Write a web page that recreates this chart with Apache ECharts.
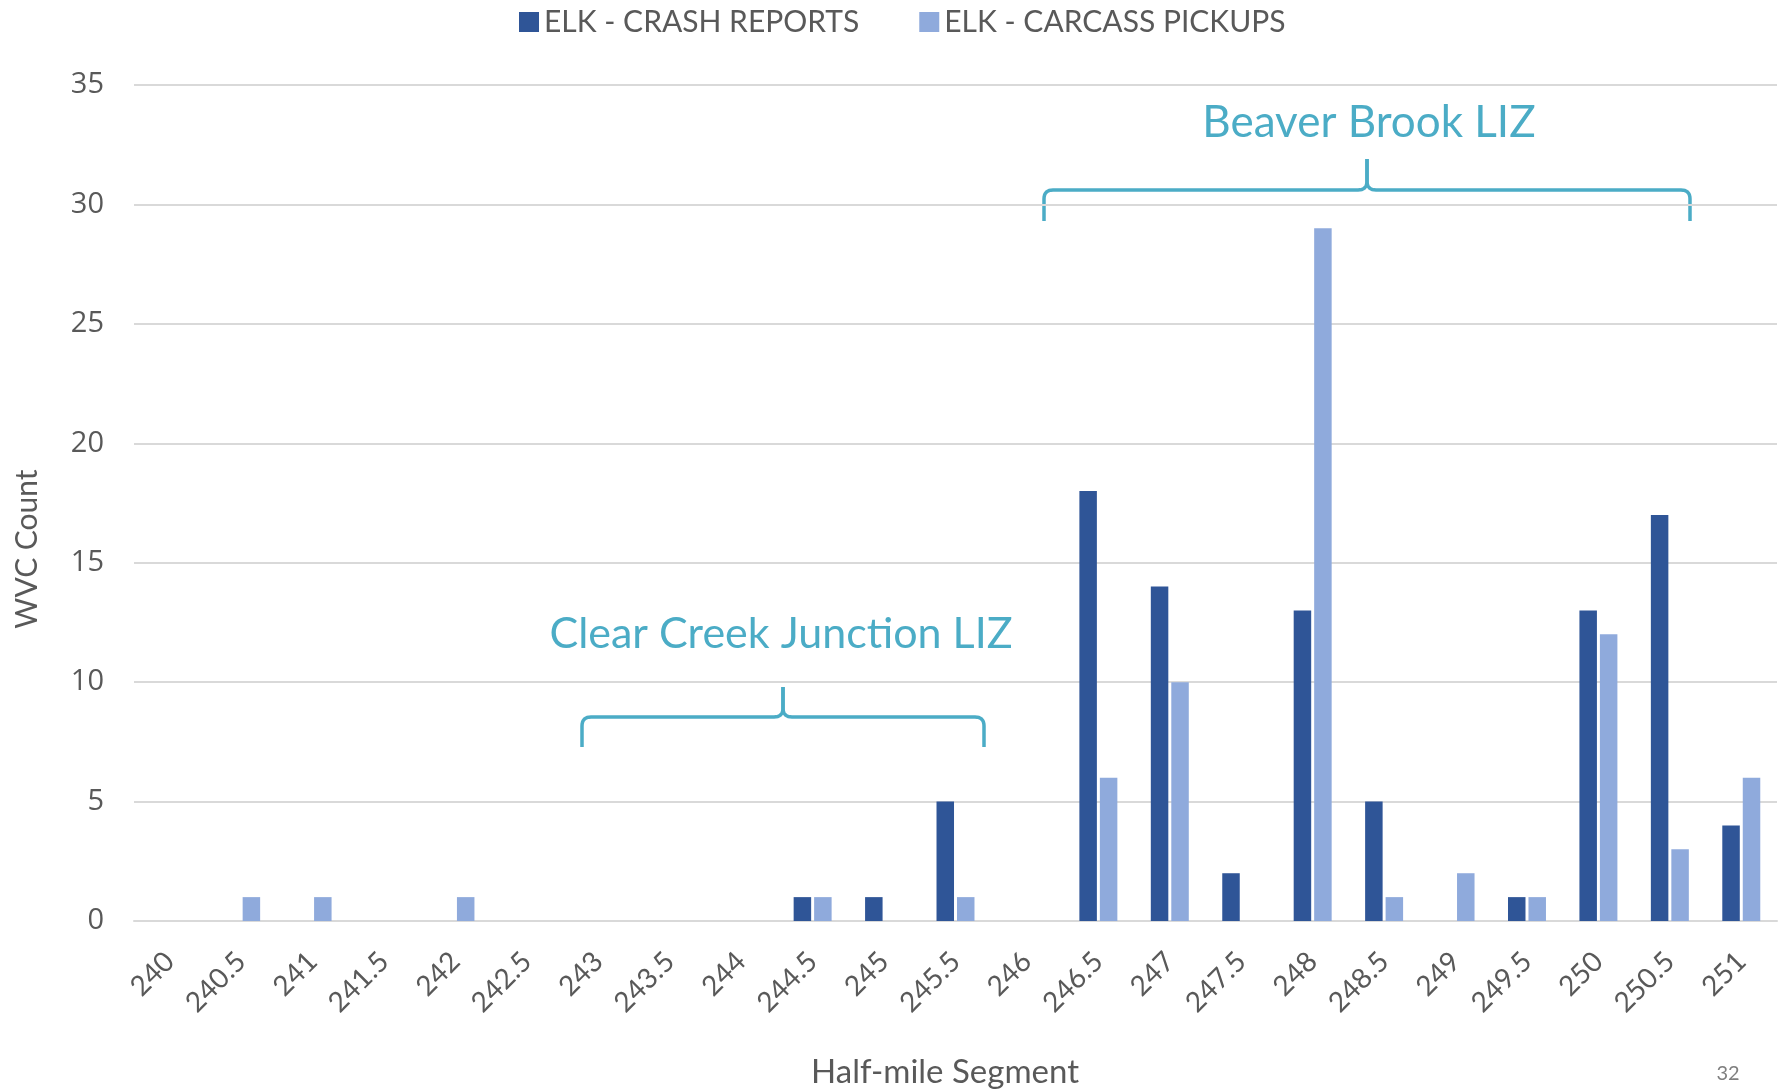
<!DOCTYPE html>
<html>
<head>
<meta charset="utf-8">
<script src="https://cdn.jsdelivr.net/npm/echarts@6/dist/echarts.min.js"></script>
<style>
html,body{margin:0;padding:0;background:#fff;}
#chart{width:1783px;height:1092px;}
</style>
</head>
<body>
<div id="chart"></div>
<script>
const categories = ['240','240.5','241','241.5','242','242.5','243','243.5','244','244.5','245','245.5','246','246.5','247','247.5','248','248.5','249','249.5','250','250.5','251'];
const crashReports = [0,0,0,0,0,0,0,0,0,1,1,5,0,18,14,2,13,5,0,1,13,17,4];
const carcassPickups = [0,1,1,0,1,0,0,0,0,1,0,1,0,6,10,0,29,1,2,1,12,3,6];
const yTicks = {min:0, max:35, interval:5};
const seriesNames = ['ELK - CRASH REPORTS','ELK - CARCASS PICKUPS'];

const TXT = '#595959';
const ANN = '#4BACC6';
const chart = echarts.init(document.getElementById('chart'));

function quad(p0, c, p1, n){
  const pts = [];
  for (let i = 1; i <= n; i++) {
    const t = i / n, u = 1 - t;
    pts.push([u*u*p0[0] + 2*u*t*c[0] + t*t*p1[0], u*u*p0[1] + 2*u*t*c[1] + t*t*p1[1]]);
  }
  return pts;
}
function braceParts(x0, x1, xc, yl, yb, yp, r){
  let left = [[x0, yb], [x0, yl + r]];
  left = left.concat(quad([x0, yl + r], [x0, yl], [x0 + r, yl], 8));
  left.push([xc - r, yl]);
  left = left.concat(quad([xc - r, yl], [xc, yl], [xc, yl - r], 8));
  left.push([xc, yp]);
  let right = [[x1, yb], [x1, yl + r]];
  right = right.concat(quad([x1, yl + r], [x1, yl], [x1 - r, yl], 8));
  right.push([xc + r, yl]);
  right = right.concat(quad([xc + r, yl], [xc, yl], [xc, yl - r], 8));
  right.push([xc, yp]);
  const st = {stroke:ANN, lineWidth:3.5, fill:null, lineJoin:'round', lineCap:'butt'};
  return [
    {type:'polyline', shape:{points:left}, style:st},
    {type:'polyline', shape:{points:right}, style:st}
  ];
}

const graphics = [
  {type:'text', x:27, y:549, rotation:Math.PI/2, style:{text:'WVC Count', fontFamily:'Lato', fontSize:30, fill:TXT, align:'center', verticalAlign:'middle'}},
  {type:'text', x:945, y:1072, style:{text:'Half-mile Segment', fontFamily:'Lato', fontSize:33, fill:TXT, align:'center', verticalAlign:'middle'}},
  {type:'text', x:1728, y:1074, style:{text:'32', fontFamily:'Lato', fontSize:20, fill:'#7F7F7F', align:'center', verticalAlign:'middle'}},
  {type:'text', x:1369, y:123, style:{text:'Beaver Brook LIZ', fontFamily:'Lato', fontSize:44, fill:ANN, align:'center', verticalAlign:'middle'}},
  {type:'text', x:781, y:634, style:{text:'Clear Creek Junc\u200Ction LIZ', fontFamily:'Lato', fontSize:43, fill:ANN, align:'center', verticalAlign:'middle'}}
].concat(braceParts(1044,1690,1367,190,221,159,9)).concat(braceParts(582,984,783,717,747,687,9));

chart.setOption({
  animation:false,
  backgroundColor:'#fff',
  grid:{left:134, right:6, top:85, bottom:171, containLabel:false},
  legend:{
    top:2, left:514, icon:'rect', itemWidth:20, itemHeight:20, itemGap:60,
    textStyle:{fontFamily:'Lato', fontSize:30, color:TXT},
    data:seriesNames
  },
  xAxis:{
    type:'category', data:categories, boundaryGap:true,
    axisTick:{show:false},
    axisLine:{show:true, lineStyle:{color:'#D9D9D9', width:2}},
    axisLabel:{interval:0, rotate:45, fontFamily:'Lato', fontSize:28, color:TXT, margin:36}
  },
  yAxis:{
    type:'value', min:yTicks.min, max:yTicks.max, interval:yTicks.interval,
    axisLine:{show:false}, axisTick:{show:false},
    splitLine:{lineStyle:{color:'#D9D9D9', width:2}},
    axisLabel:{fontFamily:'Open Sans', fontSize:29, color:TXT, margin:30}
  },
  series:[
    {name:seriesNames[0], type:'bar', data:crashReports, barWidth:17.5, barGap:'17%', itemStyle:{color:'#2F5597'}},
    {name:seriesNames[1], type:'bar', data:carcassPickups, barWidth:17.5, barGap:'17%', itemStyle:{color:'#8FAADC'}}
  ],
  graphic:graphics
});
</script>
</body>
</html>
